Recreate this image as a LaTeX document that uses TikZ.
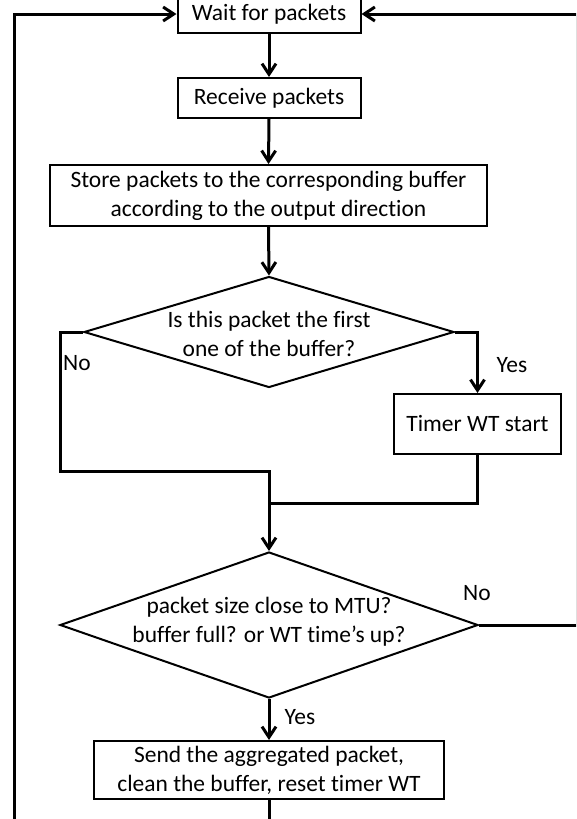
\documentclass[tikz,border=0pt]{standalone}
\usepackage{fontspec}
\setmainfont{Carlito}[Ligatures={NoCommon,TeX}]
\usetikzlibrary{shapes.geometric,arrows.meta}

\begin{document}
\begin{tikzpicture}[x=0.75pt,y=-0.75pt,
	box/.style={draw,line width=1.5pt,inner sep=0pt,align=center},
	decision/.style={draw,diamond,line width=1.5pt,inner sep=0pt},
	txt/.style={align=center,inner sep=0pt},
	line/.style={line width=2.25pt},
	flow/.style={line width=2.25pt,-{Straight Barb[length=8pt,width=10.5pt]}},
	font=\fontsize{17.6}{21.75}\selectfont]
	\clip (0,0) rectangle (576,819);
	\node (wait) at (269,14)[box,minimum width=137.25pt,minimum height=28.5pt]{Wait for packets};
	\node (recv) at (269,98)[box,minimum width=137.25pt,minimum height=30pt]{Receive packets};
	\node (store) at (268.5,195.5)[box,minimum width=327.75pt,minimum height=45.75pt]{Store packets to the corresponding buffer\\according to the output direction};
	\node (dec1) at (269,332)[decision,minimum width=277.5pt,minimum height=83.25pt]{};
	\node (dec1txt) at (269,334)[txt]{Is this packet the first\\one of the buffer?};
	\node (timer) at (477.5,424)[box,minimum width=125.25pt,minimum height=45pt]{Timer WT start};
	\node (dec2) at (269,625)[decision,minimum width=313.5pt,minimum height=109.5pt]{};
	\node (dec2txt) at (269,622)[txt]{packet size close to MTU?\\buffer full? or WT time's up?};
	\node (send) at (269,770)[box,minimum width=262.5pt,minimum height=43.5pt]{Send the aggregated packet,\\clean the buffer, reset timer WT};
	% labels
	\node (no1) at (77,363){No};
	\node (yes1) at (512,365){Yes};
	\node (no2) at (477,593){No};
	\node (yes2) at (300,717){Yes};
	% joins
	\coordinate (nojoin) at (60,471);
	\coordinate (yesjoin) at (269,503);
	\coordinate (backR) at (577,14);
	\coordinate (loopL) at (14,840);
	% connectors
	\draw[flow] (wait.south)--(recv.north);
	\draw[flow] (recv.south)--(store.north);
	\draw[flow] (store.south)--(dec1.north);
	\draw[flow] (dec1.west) -| (nojoin) -| (dec2.north);
	\draw[flow] (dec1.east) -| (timer.north);
	\draw[line] (timer.south) |- (yesjoin);
	\draw[flow] (dec2.south)--(send.north);
	\draw[flow] (dec2.east) -| (backR)--(wait.east);
	\draw[flow] (send.south) |- (loopL) |- (wait.west);
\end{tikzpicture}
\end{document}
